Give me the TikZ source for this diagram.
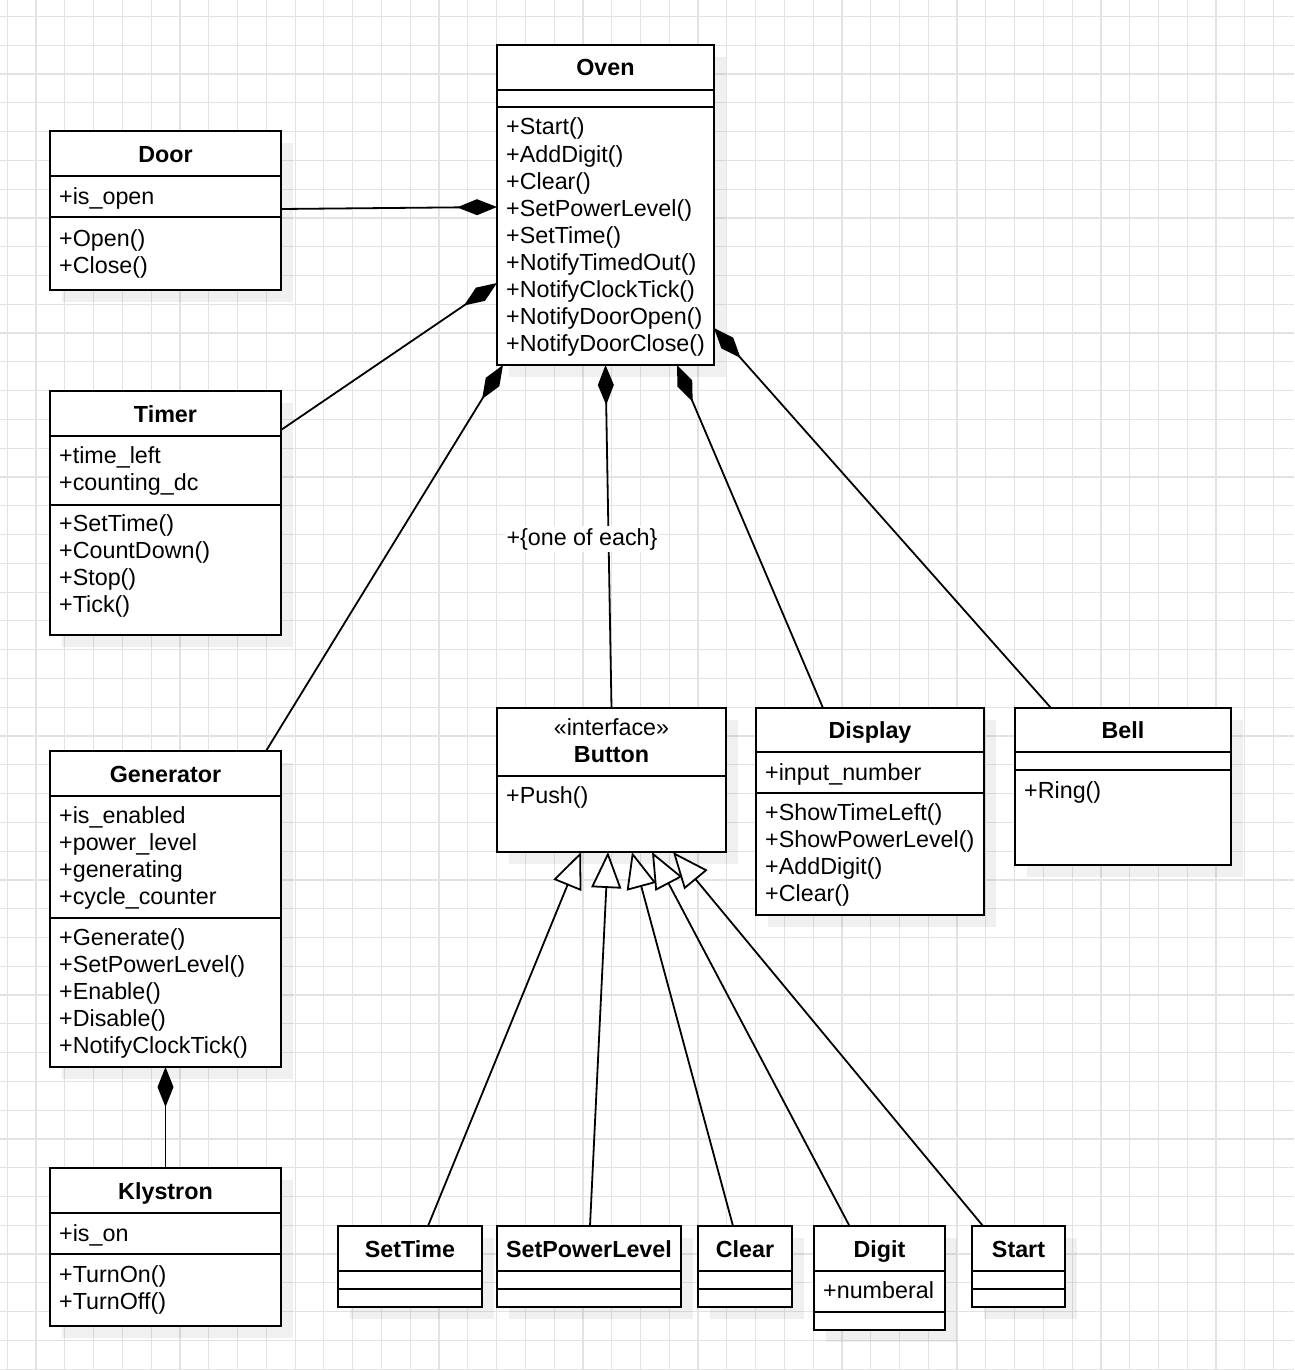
\documentclass[tikz,border=0pt]{standalone}
\usepackage{fontspec}
\setmainfont{Liberation Sans}
\usetikzlibrary{arrows.meta}
\newcommand{\umlrows}[4]{\foreach \t [count=\i from 0] in {#4}{\node[rowtxt] (#1\i) at (#2,{#3+27*\i}) {\t};}}
\newcommand{\umlbox}[5]{%
  \fill[shadowc] (#2+12,#3+12) rectangle (#4+12,#5+12);
  \node[boxst, anchor=north west, minimum width={#4-#2}, minimum height={#5-#3}] (#1) at (#2,#3) {};}
\newcommand{\umlsep}[3]{\draw[sepst] (#1,#3) -- (#2,#3);}
\begin{document}
\begin{tikzpicture}[x=1pt,y=-1pt,
  gridc/.style={draw=black!11, line width=1.2pt},
  shadowc/.style={fill=black, fill opacity=0.06},
  boxst/.style={draw, line width=2pt, fill=white, inner sep=0pt, outer sep=0pt},
  sepst/.style={line width=2pt},
  rowtxt/.style={anchor=base west, inner sep=0pt, font=\fontsize{23.3}{27}\selectfont},
  titletxt/.style={anchor=base, inner sep=0pt, font=\fontsize{23.3}{27}\selectfont\bfseries},
  comp/.style={line width=1.8pt, -{Diamond[length=40pt,width=16pt]}},
  inh/.style={line width=1.8pt, -{Triangle[length=36pt,width=30pt,fill=white]}},
]
\useasboundingbox (0,0) rectangle (1294,1370);
\fill[white] (0,0) rectangle (1294,1370);
\foreach \i in {0,...,44} \draw[gridc] ({7.3+28.78*\i},0) -- ({7.3+28.78*\i},1370);
\foreach \j in {0,...,47} \draw[gridc] (0,{16.5+28.78*\j}) -- (1294,{16.5+28.78*\j});

% Oven
\umlbox{oven}{497}{45}{714}{365}
\umlsep{497}{714}{90}\umlsep{497}{714}{107}
\node[titletxt] (oventitle) at (605.5,76) {Oven};
\umlrows{ovenm}{506}{135}{+Start(),+AddDigit(),+Clear(),+SetPowerLevel(),+SetTime(),+NotifyTimedOut(),+NotifyClockTick(),+NotifyDoorOpen(),+NotifyDoorClose()}

% Door
\umlbox{door}{50}{131}{281}{290}
\umlsep{50}{281}{176}\umlsep{50}{281}{217}
\node[titletxt] (doortitle) at (165.5,162) {Door};
\umlrows{doora}{59}{204}{+is\_open}
\umlrows{doorm}{59}{246}{+Open(),+Close()}

% Timer
\umlbox{timer}{50}{391}{281}{635}
\umlsep{50}{281}{436}\umlsep{50}{281}{505}
\node[titletxt] (timertitle) at (165.5,422) {Timer};
\umlrows{timera}{59}{463}{+time\_left,+counting\_dc}
\umlrows{timerm}{59}{531}{+SetTime(),+CountDown(),+Stop(),+Tick()}

% Generator
\umlbox{generator}{50}{751}{281}{1067}
\umlsep{50}{281}{796}\umlsep{50}{281}{918}
\node[titletxt] (gentitle) at (165.5,782) {Generator};
\umlrows{gena}{59}{823}{+is\_enabled,+power\_level,+generating,+cycle\_counter}
\umlrows{genm}{59}{945}{+Generate(),+SetPowerLevel(),+Enable(),+Disable(),+NotifyClockTick()}

% Klystron
\umlbox{klystron}{50}{1168}{281}{1326}
\umlsep{50}{281}{1213}\umlsep{50}{281}{1254}
\node[titletxt] (klytitle) at (165.5,1199) {Klystron};
\umlrows{klya}{59}{1241}{+is\_on}
\umlrows{klym}{59}{1282}{+TurnOn(),+TurnOff()}

% Button
\umlbox{button}{497}{708}{726}{852}
\umlsep{497}{726}{776}
\node[rowtxt, anchor=base] (btnster) at (611.5,735) {«interface»};
\node[titletxt] (btntitle) at (611.5,762) {Button};
\umlrows{btnm}{506}{803}{+Push()}

% Display
\umlbox{display}{756}{708}{984}{915}
\umlsep{756}{984}{752}\umlsep{756}{984}{793}
\node[titletxt] (disptitle) at (870,738) {Display};
\umlrows{dispa}{765}{780}{+input\_number}
\umlrows{dispm}{765}{820}{+ShowTimeLeft(),+ShowPowerLevel(),+AddDigit(),+Clear()}

% Bell
\umlbox{bell}{1015}{708}{1231}{865}
\umlsep{1015}{1231}{752}\umlsep{1015}{1231}{770}
\node[titletxt] (belltitle) at (1123,738) {Bell};
\umlrows{bellm}{1024}{798}{+Ring()}

% Buttons
\umlbox{settime}{338}{1226}{482}{1307}
\umlsep{338}{482}{1271}\umlsep{338}{482}{1289}
\node[titletxt] (sttitle) at (410,1257) {SetTime};
\umlbox{setpower}{497}{1226}{681}{1307}
\umlsep{497}{681}{1271}\umlsep{497}{681}{1289}
\node[titletxt] (sptitle) at (589,1257) {SetPowerLevel};
\umlbox{clear}{698}{1226}{792}{1307}
\umlsep{698}{792}{1271}\umlsep{698}{792}{1289}
\node[titletxt] (cltitle) at (745,1257) {Clear};
\umlbox{digit}{814}{1226}{945}{1330}
\umlsep{814}{945}{1271}\umlsep{814}{945}{1312}
\node[titletxt] (dgtitle) at (879.5,1257) {Digit};
\umlrows{dga}{823}{1298}{+numberal}
\umlbox{start}{972}{1226}{1065}{1307}
\umlsep{972}{1065}{1271}\umlsep{972}{1065}{1289}
\node[titletxt] (sttitle2) at (1018.5,1257) {Start};

% Compositions
\draw[comp] ([yshift=1.5pt]door.east) -- ([yshift=-2pt]oven.west);
\draw[comp] ([yshift=-39pt]timer.north east) -- ([yshift=-238pt]oven.north west);
\draw[comp] ([xshift=-15pt]generator.north east) -- ([xshift=6pt]oven.south west);
\draw[comp] (button.north) -- (oven.south);
\draw[comp] ([xshift=-47pt]display.north) -- ([xshift=-37pt]oven.south east);
\draw[comp] ([xshift=-72pt]bell.north) -- ([yshift=-283pt]oven.north east);
\draw[comp] (klystron.north) -- (generator.south);
\node[rowtxt, anchor=base, fill=white, inner sep=2pt] (lbl) at (582,545) {+\{one of each\}};

% Generalizations
\draw[inh] ([xshift=18pt]settime.north) -- ([xshift=84pt]button.south west);
\draw[inh] ([xshift=1pt]setpower.north) -- ([xshift=111pt]button.south west);
\draw[inh] ([xshift=-12pt]clear.north) -- ([xshift=135pt]button.south west);
\draw[inh] ([xshift=-30pt]digit.north) -- ([xshift=155pt]button.south west);
\draw[inh] ([xshift=-35.5pt]start.north) -- ([xshift=176pt]button.south west);
\end{tikzpicture}
\end{document}
